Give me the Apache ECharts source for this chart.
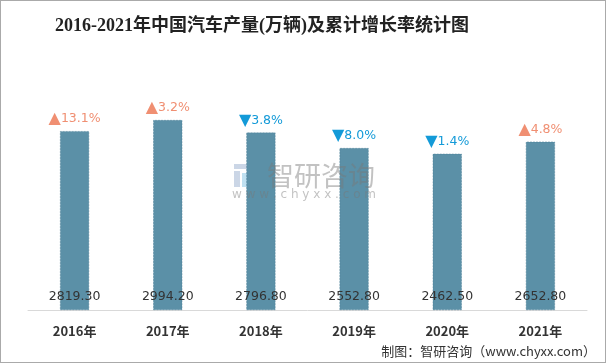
<!DOCTYPE html>
<html><head><meta charset="utf-8">
<script src="https://cdn.jsdelivr.net/npm/echarts@6/dist/echarts.min.js"></script>
<style>html,body{margin:0;padding:0;background:#fff}#c{width:606px;height:363px;box-sizing:border-box;border:1px solid #aaa}</style>
</head><body><div id="c"></div>
<script>
var categories = ['2016年','2017年','2018年','2019年','2020年','2021年'];
var production = [2819.30, 2994.20, 2796.80, 2552.80, 2462.50, 2652.80];
var growth = [13.1, 3.2, -3.8, -8.0, -1.4, 4.8];

var chart = echarts.init(document.getElementById('c'));
chart.setOption({
  animation: false,
  grid: {left: 27, right: 18, top: 87, bottom: 52},
  xAxis: {
    type: 'category', data: categories,
    axisLine: {lineStyle: {color: '#d9d9d9'}},
    axisTick: {show: false},
    axisLabel: {color: '#333', fontWeight: 'bold', fontSize: 13, margin: 15, fontFamily: 'Noto Sans CJK SC'}
  },
  yAxis: {type: 'value', min: 0, max: 3500, show: false, splitLine: {show: false}},
  graphic: [
    {type: 'text', silent: true, z: 100, position: [261, 25],
     style: {text: '2016-2021年中国汽车产量(万辆)及累计增长率统计图', font: 'bold 18px "Liberation Serif", "Noto Sans CJK SC"', fill: '#222', textAlign: 'center', textVerticalAlign: 'middle'}},
    {type: 'text', position: [595, 350], silent: true,
     style: {text: '制图：智研咨询（www.chyxx.com）', font: '13px "Noto Sans CJK SC"', fill: '#333', textAlign: 'right', textVerticalAlign: 'middle'}},
    {type: 'group', position: [233, 163], z: 50, silent: true, children: [
      {type: 'rect', shape: {x: 0, y: 0, width: 14, height: 5}, style: {fill: 'rgba(160,180,210,0.55)'}},
      {type: 'rect', shape: {x: 0, y: 7, width: 6, height: 16}, style: {fill: 'rgba(160,180,210,0.55)'}},
      {type: 'rect', shape: {x: 8, y: 9, width: 7, height: 14}, style: {fill: 'rgba(140,200,230,0.55)'}},
      {type: 'rect', shape: {x: 17, y: 0, width: 8, height: 23}, style: {fill: 'rgba(130,160,200,0.55)'}}
    ]},
    {type: 'text', position: [320, 175], z: 50, silent: true,
     style: {text: '智研咨询', font: '27px "Noto Sans CJK SC"', fill: 'rgba(120,120,120,0.45)', textAlign: 'center', textVerticalAlign: 'middle'}},
    {type: 'text', position: [303, 194], z: 50, silent: true,
     style: {text: 'w w w . c h y x x . c o m', font: '12px "DejaVu Sans"', fill: 'rgba(120,120,120,0.45)', textAlign: 'center', textVerticalAlign: 'middle'}}
  ],
  series: [
    {
      type: 'bar', data: production, barWidth: 29,
      itemStyle: {color: '#5b90a7', borderColor: '#4d7f96', borderWidth: 0.5, borderType: 'dashed'},
      label: {show: true, position: 'insideBottom', distance: 7, color: '#333', fontSize: 12.5, fontFamily: 'Verdana, DejaVu Sans',
        formatter: function(p){ return p.value.toFixed(2); }}
    },
    {
      type: 'bar', data: production, barWidth: 29, barGap: '-100%',
      itemStyle: {color: 'rgba(0,0,0,0)'}, silent: true,
      label: {show: true, position: 'top', distance: 4,
        formatter: function(p){ var g = growth[p.dataIndex]; return g >= 0 ? '{u|▲}{ut|' + g.toFixed(1) + '%}' : '{d|▼}{dt|' + Math.abs(g).toFixed(1) + '%}'; },
        rich: {
          u: {color: '#f08f72', fontSize: 16, fontFamily: 'DejaVu Sans'},
          ut: {color: '#f08f72', fontSize: 12.5, fontFamily: 'DejaVu Sans'},
          d: {color: '#139ad8', fontSize: 16, fontFamily: 'DejaVu Sans'},
          dt: {color: '#139ad8', fontSize: 12.5, fontFamily: 'DejaVu Sans'}
        }
      }
    }
  ]
});
</script></body></html>
